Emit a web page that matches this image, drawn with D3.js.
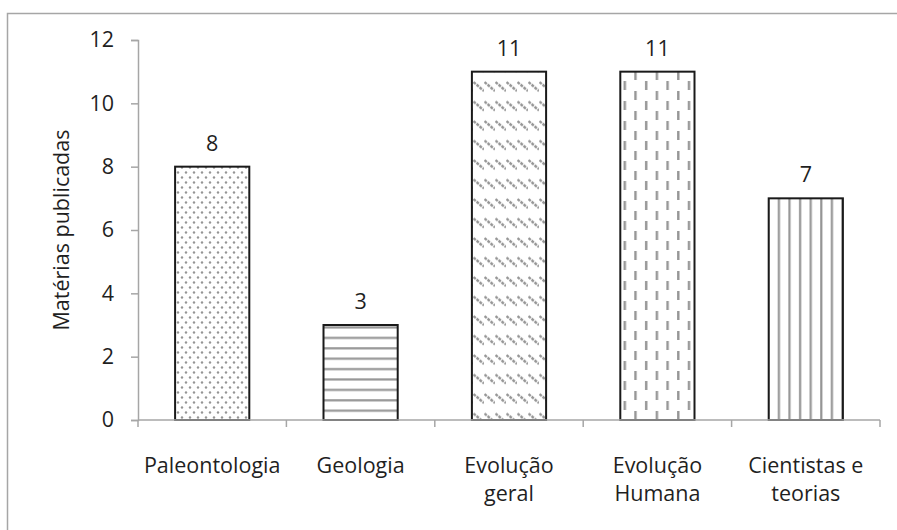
<!DOCTYPE html>
<html>
<head>
<meta charset="utf-8">
<script src="https://cdn.jsdelivr.net/npm/d3@7"></script>
<style>
  html, body { margin: 0; padding: 0; background: #fff; }
  svg text { font-family: "Open Sans", "Noto Sans", sans-serif; fill: #1f1f1f; }
</style>
</head>
<body>
<svg id="chart" width="897" height="530"></svg>
<script>
// Matérias publicadas por tema
const categories = ["Paleontologia", "Geologia", "Evolução geral", "Evolução Humana", "Cientistas e teorias"];
const labelLines = [["Paleontologia"], ["Geologia"], ["Evolução", "geral"], ["Evolução", "Humana"], ["Cientistas e", "teorias"]];
const values = [8, 3, 11, 11, 7];
const patterns = ["dots", "hlines", "diag", "vdash", "vlines"];
const yTicks = [0, 2, 4, 6, 8, 10, 12];
const yTitle = "Matérias publicadas";

const svg = d3.select("#chart");
const margin = { left: 138, right: 17, top: 40, bottom: 110 };
const W = 897, H = 530;
const fs = 21.5;

// Outer frame (runs off the right and bottom edges)
svg.append("rect")
  .attr("x", 7.5).attr("y", 13.5)
  .attr("width", 900).attr("height", 540)
  .attr("fill", "none").attr("stroke", "#a6a6a6").attr("stroke-width", 1.5);

const defs = svg.append("defs");
const gray = "#959595";

// dotted fill
let p = defs.append("pattern").attr("id", "dots").attr("patternUnits", "userSpaceOnUse")
  .attr("width", 8).attr("height", 10);
p.append("circle").attr("cx", 2).attr("cy", 2.5).attr("r", 1.2).attr("fill", gray);
p.append("circle").attr("cx", 6).attr("cy", 7.5).attr("r", 1.2).attr("fill", gray);

// horizontal stripes
p = defs.append("pattern").attr("id", "hlines").attr("patternUnits", "userSpaceOnUse")
  .attr("width", 10).attr("height", 10.4);
p.append("rect").attr("x", 0).attr("y", 4).attr("width", 10).attr("height", 2.2).attr("fill", gray);

// diagonal dashes in rows
p = defs.append("pattern").attr("id", "diag").attr("patternUnits", "userSpaceOnUse")
  .attr("width", 11).attr("height", 19.5);
p.append("line").attr("x1", 0.5).attr("y1", 4).attr("x2", 11).attr("y2", 13)
  .attr("stroke", gray).attr("stroke-width", 2.4).attr("stroke-dasharray", "3,1");

// staggered vertical dashes
p = defs.append("pattern").attr("id", "vdash").attr("patternUnits", "userSpaceOnUse")
  .attr("width", 21.4).attr("height", 20);
p.append("rect").attr("x", 3).attr("y", 1).attr("width", 2.4).attr("height", 9).attr("fill", gray);
p.append("rect").attr("x", 13.7).attr("y", 11).attr("width", 2.4).attr("height", 9).attr("fill", gray);

// vertical stripes
p = defs.append("pattern").attr("id", "vlines").attr("patternUnits", "userSpaceOnUse")
  .attr("width", 10.6).attr("height", 10);
p.append("rect").attr("x", 4).attr("y", 0).attr("width", 2.2).attr("height", 10).attr("fill", gray);

const x = d3.scaleBand().domain(categories)
  .range([margin.left, W - margin.right]).paddingInner(0.5).paddingOuter(0.25);
const xOuter = d3.scaleBand().domain(categories).range([margin.left, W - margin.right]);
const y = d3.scaleLinear().domain([0, 12]).range([H - margin.bottom, margin.top]);

// Y axis
const yAxis = svg.append("g").attr("transform", `translate(${margin.left},0)`)
  .call(d3.axisLeft(y).tickValues(yTicks).tickSize(7).tickPadding(17));
yAxis.attr("font-size", null).attr("font-family", null);
yAxis.select(".domain").attr("stroke", "#a6a6a6").attr("stroke-width", 1.5);
yAxis.selectAll(".tick line").attr("stroke", "#a6a6a6").attr("stroke-width", 1.5);
yAxis.selectAll(".tick text").style("font-size", fs + "px").attr("fill", "#1f1f1f");

// Bars
svg.append("g").selectAll("rect").data(values).join("rect")
  .attr("x", (d, i) => x(categories[i]))
  .attr("width", x.bandwidth())
  .attr("y", d => y(d))
  .attr("height", d => y(0) - y(d))
  .attr("fill", (d, i) => `url(#${patterns[i]})`)
  .attr("stroke", "#1a1a1a").attr("stroke-width", 2);

// X axis with ticks at category boundaries
const xg = svg.append("g");
xg.append("line").attr("x1", margin.left).attr("x2", W - margin.right)
  .attr("y1", y(0)).attr("y2", y(0)).attr("stroke", "#a6a6a6").attr("stroke-width", 1.5);
const bounds = categories.map(c => xOuter(c)).concat([W - margin.right]);
xg.selectAll("line.tk").data(bounds).join("line").attr("class", "tk")
  .attr("x1", d => d).attr("x2", d => d)
  .attr("y1", y(0)).attr("y2", y(0) + 7)
  .attr("stroke", "#a6a6a6").attr("stroke-width", 1.5);

// Category labels
const lab = svg.append("g").selectAll("text").data(labelLines).join("text")
  .attr("text-anchor", "middle").style("font-size", fs + "px")
  .attr("x", (d, i) => x(categories[i]) + x.bandwidth() / 2)
  .attr("y", 473);
lab.selectAll("tspan").data(d => d).join("tspan")
  .attr("x", function () { return d3.select(this.parentNode).attr("x"); })
  .attr("dy", (d, j) => j === 0 ? 0 : 28)
  .text(d => d);

// Value labels
svg.append("g").selectAll("text").data(values).join("text")
  .attr("text-anchor", "middle").style("font-size", fs + "px")
  .attr("x", (d, i) => x(categories[i]) + x.bandwidth() / 2)
  .attr("y", d => y(d) - 16)
  .text(d => d);

// Y title
svg.append("text")
  .attr("transform", `translate(69,${(y(0) + y(12)) / 2}) rotate(-90)`)
  .attr("text-anchor", "middle").style("font-size", fs + "px")
  .text(yTitle);
</script>
</body>
</html>
